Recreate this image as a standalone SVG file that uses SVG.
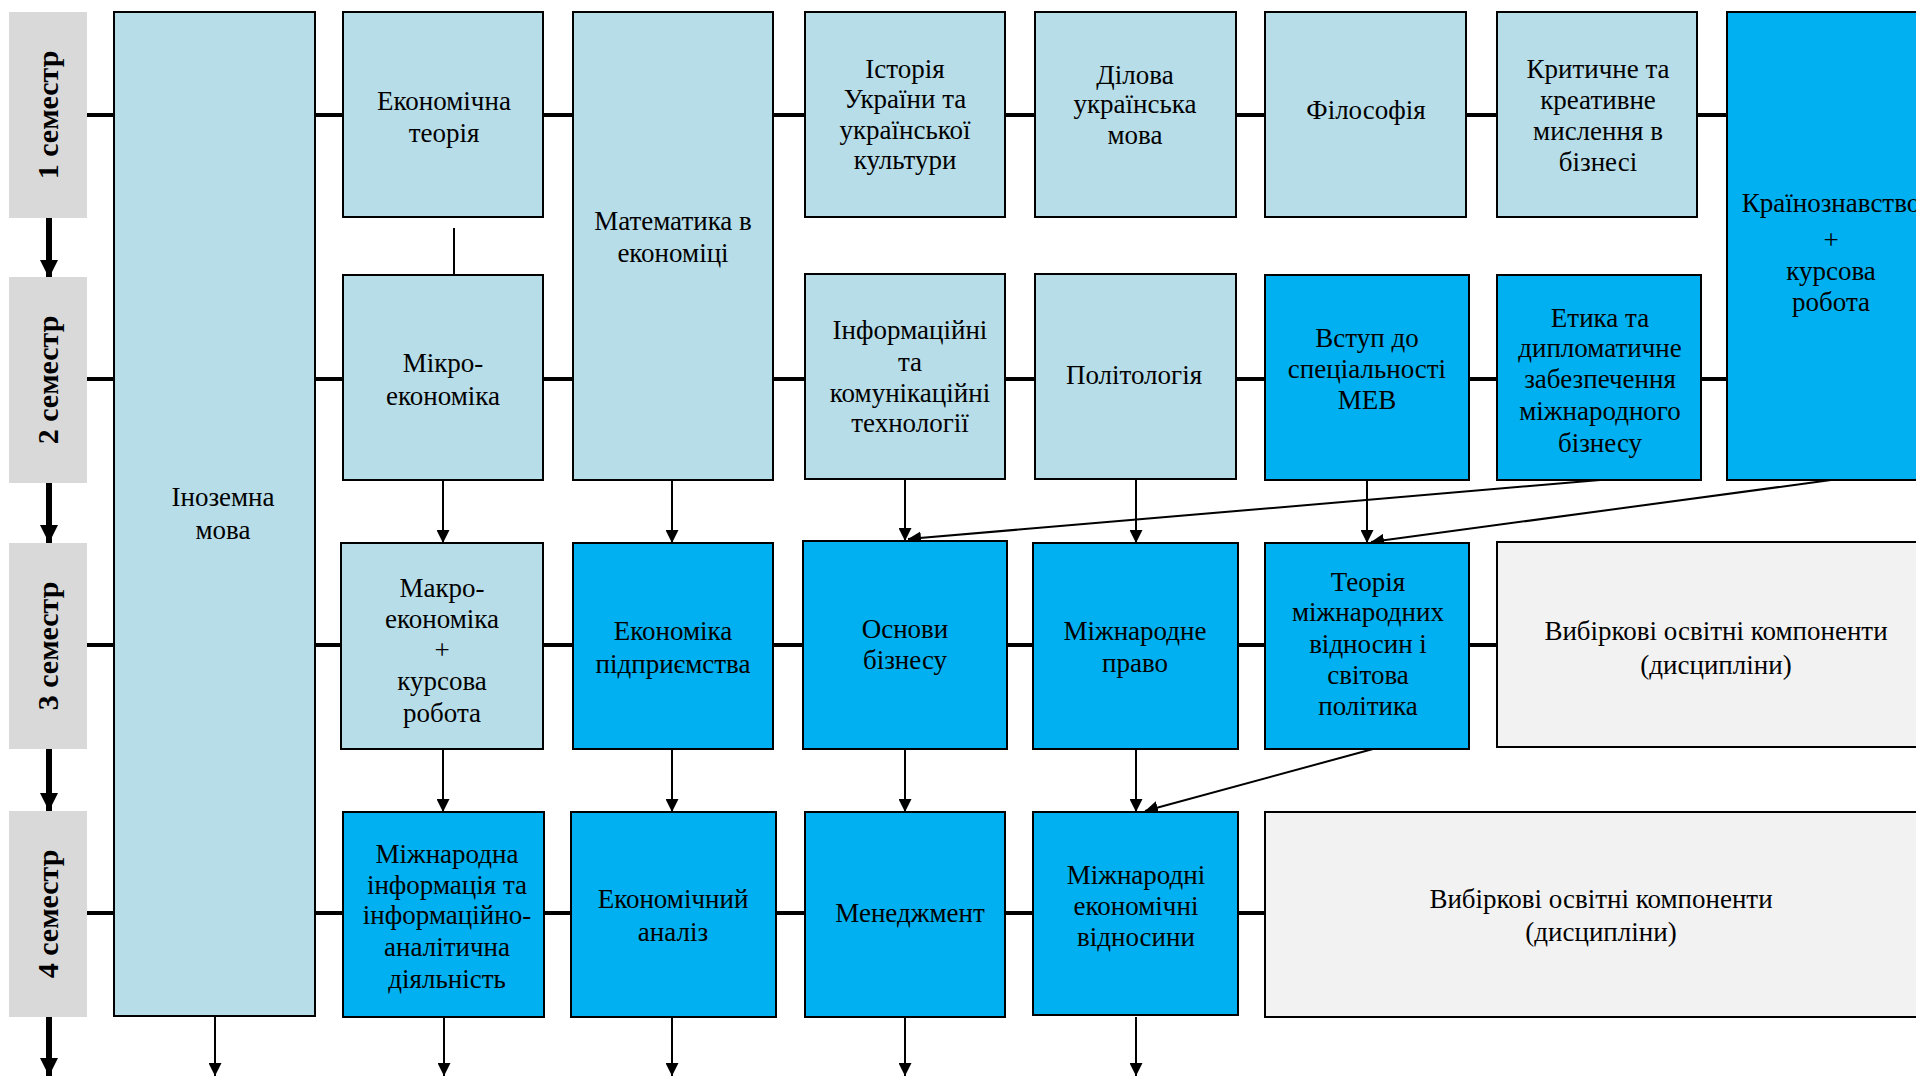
<svg xmlns="http://www.w3.org/2000/svg" width="1916" height="1076" viewBox="0 0 1916 1076">
<style>
.lb{fill:#b7dde8;stroke:#000;stroke-width:2}
.bb{fill:#00b0f0;stroke:#000;stroke-width:2}
.gb{fill:#f2f2f2;stroke:#000;stroke-width:2}
.sem{fill:#d9d9d9}
text{font-family:"Liberation Serif","Times New Roman",serif;font-size:27px;fill:#000;text-anchor:middle}
.st{font-size:30px;font-weight:bold}
.row{stroke:#000;stroke-width:4;fill:none}
.ar{stroke:#000;stroke-width:2;fill:none;marker-end:url(#ah)}
.ln{stroke:#000;stroke-width:2;fill:none}
.sa{stroke:#000;stroke-width:6;fill:none;marker-end:url(#sah)}
</style>
<defs>
<marker id="ah" markerUnits="userSpaceOnUse" markerWidth="13" markerHeight="13" viewBox="0 0 13 13" refX="13" refY="6.5" orient="auto"><path d="M0,0 L13,6.5 L0,13 z" fill="#000"/></marker>
<marker id="sah" markerUnits="userSpaceOnUse" markerWidth="18" markerHeight="18" viewBox="0 0 18 18" refX="18" refY="9" orient="auto"><path d="M0,0 L18,9 L0,18 z" fill="#000"/></marker>
</defs>
<rect width="1916" height="1076" fill="#fff"/>
<g id="connectors">
<line class="row" x1="87" y1="115" x2="1916" y2="115"/>
<line class="row" x1="87" y1="379" x2="1916" y2="379"/>
<line class="row" x1="87" y1="645" x2="1916" y2="645"/>
<line class="row" x1="87" y1="913" x2="1916" y2="913"/>
<line class="sa" x1="49" y1="218" x2="49" y2="278"/>
<line class="sa" x1="49" y1="483" x2="49" y2="543"/>
<line class="sa" x1="49" y1="749" x2="49" y2="811"/>
<line class="sa" x1="49" y1="1017" x2="49" y2="1076"/>
<line class="ln" x1="454" y1="228" x2="454" y2="275"/>
<line class="ar" x1="443" y1="480" x2="443" y2="543"/>
<line class="ar" x1="443" y1="749" x2="443" y2="812"/>
<line class="ar" x1="672" y1="480" x2="672" y2="543"/>
<line class="ar" x1="905" y1="479" x2="905" y2="541"/>
<line class="ar" x1="1136" y1="479" x2="1136" y2="543"/>
<line class="ar" x1="1600" y1="480" x2="908" y2="539"/>
<line class="ar" x1="1367" y1="480" x2="1367" y2="543"/>
<line class="ar" x1="1831" y1="480" x2="1371" y2="542"/>
<line class="ar" x1="672" y1="749" x2="672" y2="812"/>
<line class="ar" x1="905" y1="749" x2="905" y2="812"/>
<line class="ar" x1="1136" y1="749" x2="1136" y2="812"/>
<line class="ar" x1="1373" y1="749" x2="1145" y2="811"/>
<line class="ar" x1="215" y1="1017" x2="215" y2="1076"/>
<line class="ar" x1="444" y1="1017" x2="444" y2="1076"/>
<line class="ar" x1="672" y1="1017" x2="672" y2="1076"/>
<line class="ar" x1="905" y1="1017" x2="905" y2="1076"/>
<line class="ar" x1="1136" y1="1017" x2="1136" y2="1076"/>
</g>
<g id="sem1"><rect class="sem" x="9" y="12" width="78" height="206"/><text class="st" transform="translate(58,115) rotate(-90)" x="0" y="0">1 семестр</text></g>
<g id="sem2"><rect class="sem" x="9" y="277" width="78" height="206"/><text class="st" transform="translate(58,380) rotate(-90)" x="0" y="0">2 семестр</text></g>
<g id="sem3"><rect class="sem" x="9" y="543" width="78" height="206"/><text class="st" transform="translate(58,646) rotate(-90)" x="0" y="0">3 семестр</text></g>
<g id="sem4"><rect class="sem" x="9" y="811" width="78" height="206"/><text class="st" transform="translate(58,914) rotate(-90)" x="0" y="0">4 семестр</text></g>
<g id="inozemna"><rect class="lb" x="114" y="12" width="201" height="1004"/><text x="223"><tspan x="223" y="506">Іноземна</tspan><tspan x="223" y="539">мова</tspan></text></g>
<g id="ekteor"><rect class="lb" x="343" y="12" width="200" height="205"/><text><tspan x="444" y="110">Економічна</tspan><tspan x="444" y="142">теорія</tspan></text></g>
<g id="mikro"><rect class="lb" x="343" y="275" width="200" height="205"/><text><tspan x="443" y="372">Мікро-</tspan><tspan x="443" y="405">економіка</tspan></text></g>
<g id="makro"><rect class="lb" x="341" y="543" width="202" height="206"/><text><tspan x="442" y="597">Макро-</tspan><tspan x="442" y="628">економіка</tspan><tspan x="442" y="659">+</tspan><tspan x="442" y="690">курсова</tspan><tspan x="442" y="722">робота</tspan></text></g>
<g id="mizhinf"><rect class="bb" x="343" y="812" width="201" height="205"/><text><tspan x="447" y="863">Міжнародна</tspan><tspan x="447" y="894">інформація та</tspan><tspan x="447" y="924">інформаційно-</tspan><tspan x="447" y="956">аналітична</tspan><tspan x="447" y="988">діяльність</tspan></text></g>
<g id="matem"><rect class="lb" x="573" y="12" width="200" height="468"/><text><tspan x="673" y="230">Математика в</tspan><tspan x="673" y="262">економіці</tspan></text></g>
<g id="ekpidpr"><rect class="bb" x="573" y="543" width="200" height="206"/><text><tspan x="673" y="640">Економіка</tspan><tspan x="673" y="673">підприємства</tspan></text></g>
<g id="ekanaliz"><rect class="bb" x="571" y="812" width="205" height="205"/><text><tspan x="673" y="908">Економічний</tspan><tspan x="673" y="941">аналіз</tspan></text></g>
<g id="istoriya"><rect class="lb" x="805" y="12" width="200" height="205"/><text><tspan x="905" y="78">Історія</tspan><tspan x="905" y="108">України та</tspan><tspan x="905" y="139">української</tspan><tspan x="905" y="169">культури</tspan></text></g>
<g id="infkom"><rect class="lb" x="805" y="274" width="200" height="205"/><text><tspan x="910" y="339">Інформаційні</tspan><tspan x="910" y="371">та</tspan><tspan x="910" y="402">комунікаційні</tspan><tspan x="910" y="432">технології</tspan></text></g>
<g id="osnovy"><rect class="bb" x="803" y="541" width="204" height="208"/><text><tspan x="905" y="638">Основи</tspan><tspan x="905" y="669">бізнесу</tspan></text></g>
<g id="menedzh"><rect class="bb" x="805" y="812" width="200" height="205"/><text x="910" y="922">Менеджмент</text></g>
<g id="dilova"><rect class="lb" x="1035" y="12" width="201" height="205"/><text><tspan x="1135" y="84">Ділова</tspan><tspan x="1135" y="113">українська</tspan><tspan x="1135" y="144">мова</tspan></text></g>
<g id="polit"><rect class="lb" x="1035" y="274" width="201" height="205"/><text x="1134" y="384">Політологія</text></g>
<g id="pravo"><rect class="bb" x="1033" y="543" width="205" height="206"/><text><tspan x="1135" y="640">Міжнародне</tspan><tspan x="1135" y="672">право</tspan></text></g>
<g id="mev"><rect class="bb" x="1033" y="812" width="205" height="203"/><text><tspan x="1136" y="884">Міжнародні</tspan><tspan x="1136" y="915">економічні</tspan><tspan x="1136" y="946">відносини</tspan></text></g>
<g id="filos"><rect class="lb" x="1265" y="12" width="201" height="205"/><text x="1366" y="119">Філософія</text></g>
<g id="vstup"><rect class="bb" x="1265" y="275" width="204" height="205"/><text><tspan x="1367" y="347">Вступ до</tspan><tspan x="1367" y="378">спеціальності</tspan><tspan x="1367" y="409">МЕВ</tspan></text></g>
<g id="teoriya"><rect class="bb" x="1265" y="543" width="204" height="206"/><text><tspan x="1368" y="591">Теорія</tspan><tspan x="1368" y="621">міжнародних</tspan><tspan x="1368" y="653">відносин і</tspan><tspan x="1368" y="684">світова</tspan><tspan x="1368" y="715">політика</tspan></text></g>
<g id="vybir4"><rect class="gb" x="1265" y="812" width="690" height="205"/><text><tspan x="1601" y="908">Вибіркові освітні компоненти</tspan><tspan x="1601" y="941">(дисципліни)</tspan></text></g>
<g id="krytychne"><rect class="lb" x="1497" y="12" width="200" height="205"/><text><tspan x="1598" y="78">Критичне та</tspan><tspan x="1598" y="109">креативне</tspan><tspan x="1598" y="140">мислення в</tspan><tspan x="1598" y="171">бізнесі</tspan></text></g>
<g id="etyka"><rect class="bb" x="1497" y="275" width="204" height="205"/><text><tspan x="1600" y="327">Етика та</tspan><tspan x="1600" y="357">дипломатичне</tspan><tspan x="1600" y="388">забезпечення</tspan><tspan x="1600" y="420">міжнародного</tspan><tspan x="1600" y="452">бізнесу</tspan></text></g>
<g id="vybir3"><rect class="gb" x="1497" y="542" width="460" height="205"/><text><tspan x="1716" y="640">Вибіркові освітні компоненти</tspan><tspan x="1716" y="674">(дисципліни)</tspan></text></g>
<g id="krainozn"><rect class="bb" x="1727" y="12" width="230" height="468"/><text><tspan x="1831" y="212">Країнознавство</tspan><tspan x="1831" y="249">+</tspan><tspan x="1831" y="280">курсова</tspan><tspan x="1831" y="311">робота</tspan></text></g>
</svg>
